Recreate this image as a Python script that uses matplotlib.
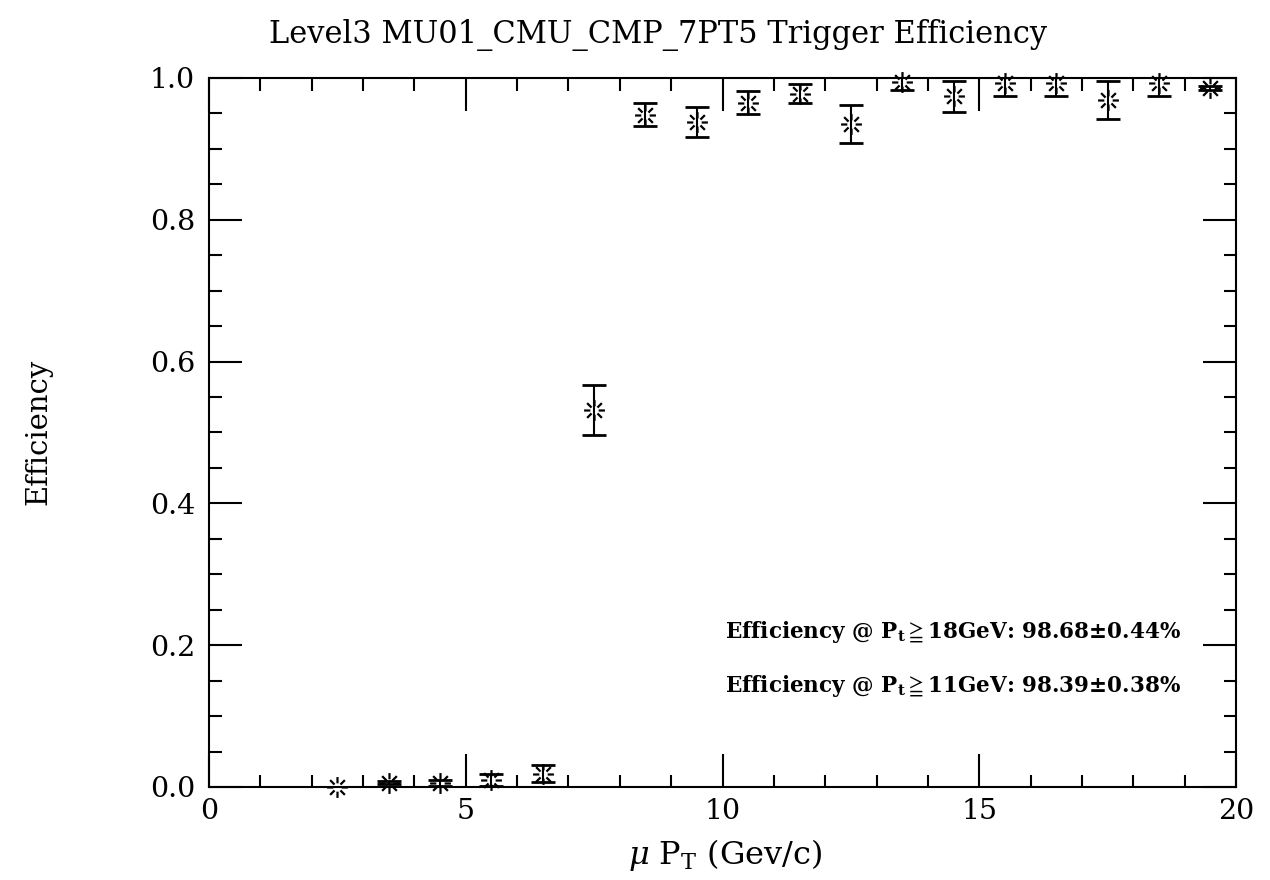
import numpy as np
import matplotlib
matplotlib.use('Agg')
import matplotlib.pyplot as plt
from matplotlib.path import Path
from matplotlib.ticker import MultipleLocator, FormatStrFormatter

# bin centres (GeV/c) and measured trigger efficiency with errors
pt_bins = [2.5, 3.5, 4.5, 5.5, 6.5, 7.5, 8.5, 9.5, 10.5, 11.5,
           12.5, 13.5, 14.5, 15.5, 16.5, 17.5, 18.5, 19.5]
efficiency = [0.000, 0.006, 0.006, 0.010, 0.019, 0.532, 0.948, 0.938, 0.965, 0.978,
              0.935, 0.995, 0.974, 0.993, 0.993, 0.969, 0.993, 0.986]
eff_error = [0.000, 0.002, 0.004, 0.009, 0.012, 0.035, 0.016, 0.021, 0.016, 0.014,
             0.027, 0.012, 0.022, 0.018, 0.018, 0.027, 0.018, 0.003]

summary_lines = [
    r'Efficiency @ P$_\mathbf{t}\geqq$18GeV: 98.68±0.44%',
    r'Efficiency @ P$_\mathbf{t}\geqq$11GeV: 98.39±0.38%',
]

plt.rcParams['font.family'] = ['DejaVu Serif', 'DejaVu Sans']
plt.rcParams['mathtext.fontset'] = 'dejavuserif'

# asterisk with an open centre: 8 short spokes
verts, codes = [], []
for ang in np.arange(0, 360, 45):
    a = np.deg2rad(ang)
    verts += [(0.4 * np.cos(a), 0.4 * np.sin(a)), (np.cos(a), np.sin(a))]
    codes += [Path.MOVETO, Path.LINETO]
star = Path(verts, codes)

fig = plt.figure(figsize=(12.7, 8.8), dpi=100)
ax = fig.add_axes([0.1646, 0.1057, 0.8086, 0.8057])

ax.errorbar(pt_bins, efficiency, yerr=eff_error, fmt='none', ecolor='black',
            elinewidth=1.5, capsize=8.6, capthick=2)
ax.plot(pt_bins, efficiency, linestyle='none', marker=star, markersize=15,
        markeredgecolor='black', markeredgewidth=1.6, clip_on=False)

ax.set_xlim(0, 20)
ax.set_ylim(0, 1.0)
ax.xaxis.set_major_locator(MultipleLocator(5))
ax.xaxis.set_minor_locator(MultipleLocator(1))
ax.yaxis.set_major_locator(MultipleLocator(0.2))
ax.yaxis.set_minor_locator(MultipleLocator(0.05))
ax.yaxis.set_major_formatter(FormatStrFormatter('%.1f'))

ax.tick_params(which='both', direction='in', top=True, right=True, width=1.5)
ax.tick_params(which='major', length=24, labelsize=20.5)
ax.tick_params(axis='x', which='major', pad=8)
ax.tick_params(axis='y', which='major', pad=10)
ax.tick_params(which='minor', length=9)
for sp in ax.spines.values():
    sp.set_linewidth(1.5)

fig.text(0.518, 1 - 35 / 880, 'Level3 MU01_CMU_CMP_7PT5 Trigger Efficiency',
         fontsize=22, ha='center', va='center')
fig.text(0.571, 1 - 855 / 880, r'$\mu$ P$_\mathrm{T}$ (Gev/c)',
         fontsize=23, ha='center', va='center')
fig.text(38 / 1270, 1 - 432 / 880, 'Efficiency', fontsize=21,
         rotation=90, ha='center', va='center')

ax.text(10.05, 0.219, summary_lines[0], fontsize=15.5, fontweight='bold',
        ha='left', va='center')
ax.text(10.05, 0.142, summary_lines[1], fontsize=15.5, fontweight='bold',
        ha='left', va='center')

fig.savefig('out.png', dpi=100)
